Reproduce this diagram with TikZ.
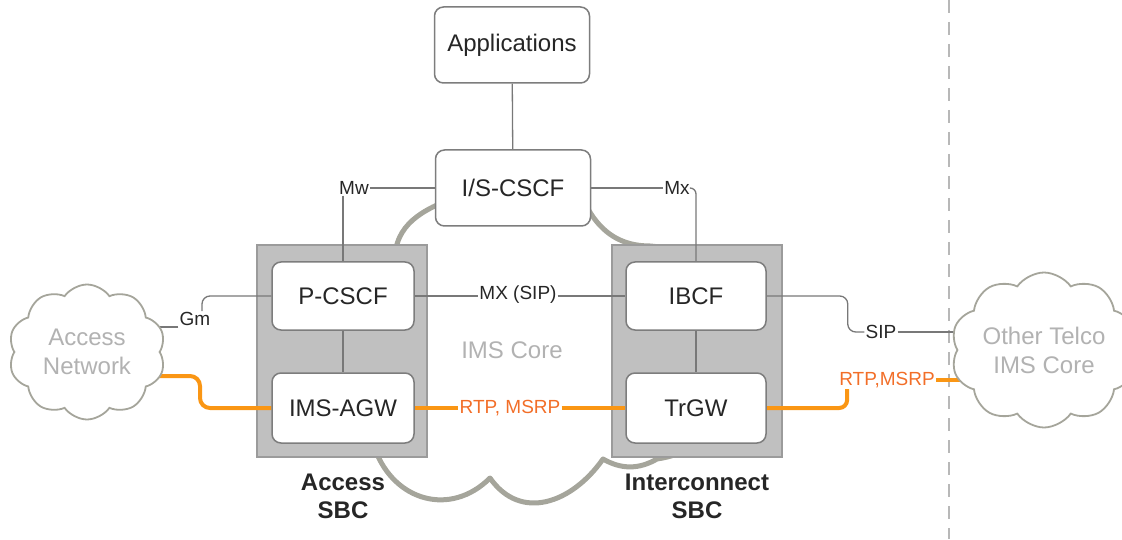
\documentclass[tikz,border=0pt]{standalone}
\usepackage{fontspec}
\setmainfont{Liberation Sans}
\usetikzlibrary{shapes.symbols}
\pgfdeclarelayer{back}
\pgfdeclarelayer{wires}
\pgfsetlayers{back,wires,main}
\definecolor{wire}{RGB}{120,120,120}
\definecolor{rtpline}{RGB}{250,150,20}
\definecolor{rtptext}{RGB}{242,110,40}
\definecolor{cloudline}{RGB}{165,165,155}
\definecolor{cloudtext}{RGB}{178,178,178}
\definecolor{sbcfill}{RGB}{192,192,192}
\definecolor{sbcline}{RGB}{155,155,155}
\definecolor{boxline}{RGB}{125,125,125}

\begin{document}
\begin{tikzpicture}[x=1pt, y=1pt,
  fn/.style={draw=boxline, fill=white, line width=1.5pt, rounded corners=9pt, inner sep=0pt, font=\fontsize{24}{29}\selectfont, text=black!85},
  sbc/.style={draw=sbcline, fill=sbcfill, line width=1.5pt, minimum width=170pt, minimum height=212pt},
  sig/.style={draw=wire, line width=1.3pt},
  media/.style={draw=rtpline, line width=4pt},
  lbl/.style={inner sep=1pt, font=\fontsize{19}{22}\selectfont, text=black!85},
  medialbl/.style={lbl, text=rtptext},
  netcloud/.style={cloud, cloud puffs=10, cloud puff arc=110, cloud ignores aspect, draw=cloudline, line width=1.8pt, fill=white, align=center, font=\fontsize{24}{29}\selectfont, text=cloudtext},
  caption/.style={align=center, font=\bfseries\fontsize{24}{28}\selectfont, text=black!85}]
\useasboundingbox (0,0) rectangle (1122,539);

\begin{pgfonlayer}{back}
\path[draw, color=black!28, line width=2pt, dash pattern=on 13pt off 9pt] (949,539) -- (949,0);
% IMS core cloud
\path[draw=cloudline, line width=5pt, line join=round] (462,344) to[out=200,in=85] (395,284) to[bend right=45] (300,190) to[bend right=45] (375,90) to[out=-70,in=225,looseness=1.2] (490,61) to[out=-55,in=235,looseness=1.2] (603,80) to[out=-30,in=210] (657,80) to[bend right=45] (740,190) to[bend right=45] (650,293) to[out=180,in=-60] (588,330) to[out=110,in=70] (462,344) -- cycle;
\node[sbc] (accsbc) at (342,188) {};
\node[sbc] (icsbc) at (697,188) {};
\end{pgfonlayer}

\node[fn, minimum width=155pt, minimum height=76pt] (apps) at (512,494) {Applications};
\node[fn, minimum width=155pt, minimum height=76pt] (iscscf) at (513,351) {I/S-CSCF};
\node[fn, minimum width=142pt, minimum height=68pt] (pcscf) at (343,243) {P-CSCF};
\node[fn, minimum width=142pt, minimum height=70pt] (imsagw) at (343,131) {IMS-AGW};
\node[fn, minimum width=140pt, minimum height=68pt] (ibcf) at (696,243) {IBCF};
\node[fn, minimum width=140pt, minimum height=70pt] (trgw) at (696,131) {TrGW};

\node[caption] (acccap) at (343,43) {Access\\SBC};
\node[caption] (iccap) at (697,43) {Interconnect\\SBC};

\node[netcloud, minimum width=157pt, minimum height=135pt] (accnet) at (87,187) {Access\\Network};
\node[netcloud, minimum width=182pt, minimum height=155pt] (telco) at (1044,189) {Other Telco\\IMS Core};
\node[font=\fontsize{24}{29}\selectfont, text=cloudtext] (imscore) at (512,189) {IMS Core};

\node[lbl] (mw) at (354,351) {Mw};
\node[lbl] (mx) at (677,351) {Mx};
\node[lbl] (gm) at (195,220) {Gm};
\node[lbl] (mxsip) at (518,244) {MX (SIP)};
\node[lbl] (sip) at (881,207) {SIP};
\node[medialbl] (rtpcore) at (510,131) {RTP, MSRP};
\node[medialbl] (rtpext) at (887,159) {RTP,MSRP};

\begin{pgfonlayer}{wires}
\path[sig] (apps) -- (iscscf);
\path[sig] (iscscf.west) -- (iscscf.west -| mw.east);
\path[sig] (mw.south -| pcscf.north) -- (pcscf.north);
\path[sig] (iscscf.east) -- (iscscf.east -| mx.west);
\path[sig, rounded corners=6pt] (mx.east) -| (ibcf.north);
\path[sig] (pcscf) -- (imsagw);
\path[sig] (ibcf) -- (trgw);
\path[sig] (pcscf.east) -- (pcscf.east -| mxsip.west);
\path[sig] (mxsip.east |- ibcf.west) -- (ibcf.west);
\path[sig, rounded corners=8pt] (pcscf.west) -| ([xshift=7pt]gm.north);
\path[sig] (gm.south west) -- (gm.south west -| accnet.center);
\path[sig, rounded corners=8pt] (ibcf.east) -- ++(81,0) |- (sip.west);
\path[sig] (sip.east) -- (sip.east -| telco.center);
\path[media, rounded corners=10pt] ([yshift=-24pt]accnet.center) -- ++(113,0) |- (imsagw.west);
\path[media] (imsagw.east) -- (imsagw.east -| rtpcore.west);
\path[media] (rtpcore.east |- trgw.west) -- (trgw.west);
\path[media, rounded corners=8pt] (trgw.east) -| ([xshift=9pt]rtpext.south west);
\path[media] (rtpext.east) -- (rtpext.east -| telco.center);
\end{pgfonlayer}
\end{tikzpicture}
\end{document}
